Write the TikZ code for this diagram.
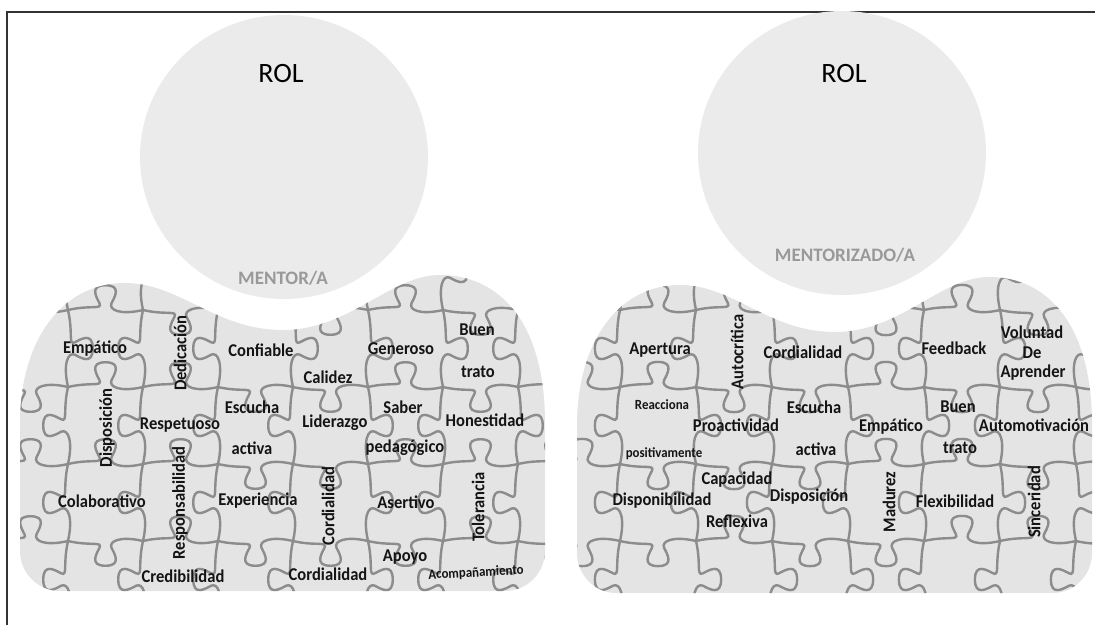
\documentclass[tikz,border=0pt]{standalone}
\usepackage{fontspec}
\setmainfont{Carlito}
\newfontfamily\wordfont{Carlito}[FakeStretch=0.92]
\usetikzlibrary{shapes.geometric}

\definecolor{headgrey}{HTML}{EBEBEB}
\definecolor{torsogrey}{HTML}{E4E4E4}
\definecolor{piecegrey}{HTML}{8C8C8C}
\definecolor{labelgrey}{HTML}{999999}
\definecolor{wordblack}{HTML}{141414}

% outline of a torso, local units, y grows downwards
\newcommand\torsopath{(0,140) .. controls (0,60) and (40,0) .. (105,0)
  .. controls (160,0) and (195,47) .. (263,47)
  .. controls (330,47) and (370,-8) .. (420,-8)
  .. controls (480,-8) and (525,40) .. (525,140)
  -- (525,268) .. controls (525,290) and (507,308) .. (485,308)
  -- (40,308) .. controls (18,308) and (0,290) .. (0,268) -- cycle}

% jigsaw grid: #1,#2 first joint, #3,#4 piece width and height
\newcommand\puzzlegrid[4]{%
  \foreach \j in {0,...,3}{
    \foreach \i in {-1,...,6}{
      \pgfmathsetmacro\s{rnd<0.5 ? 1 : -1}
      \path (#1+\i*#3, #2+\j*#4) pic[xscale=#3, yscale=\s*#3] {knob};
    }}
  \foreach \i in {0,...,6}{
    \foreach \j in {-1,...,3}{
      \pgfmathsetmacro\s{rnd<0.5 ? 1 : -1}
      \path (#1+\i*#3, #2+\j*#4) pic[rotate=-90, xscale=#4, yscale=\s*#3] {knob};
    }}}

\tikzset{
  knob/.pic={\draw[piece] (0,0) .. controls (0.3,0.07) and (0.46,0.0) .. (0.42,0.09)
    .. controls (0.38,0.17) and (0.28,0.33) .. (0.5,0.33)
    .. controls (0.72,0.33) and (0.62,0.17) .. (0.58,0.09)
    .. controls (0.54,0.0) and (0.7,-0.07) .. (1,0);}
}

\begin{document}
\begin{tikzpicture}[
    x=1pt, y=-1pt,
    head/.style={ellipse, fill=headgrey, minimum width=288pt, minimum height=284pt, inner sep=0pt},
    piece/.style={draw=piecegrey, line width=2.4pt},
    word/.style={font=\wordfont\bfseries\fontsize{18}{18}\selectfont, text=wordblack, inner sep=0pt},
    vword/.style={word, rotate=90},
    small/.style={word, font=\wordfont\bfseries\fontsize{14}{14}\selectfont},
    rol/.style={font=\fontsize{28}{28}\selectfont, text=black, inner sep=0pt},
    role/.style={font=\bfseries\fontsize{19}{19}\selectfont, text=labelgrey, inner sep=0pt}
]
\useasboundingbox (0,0) rectangle (1095,625);
\pgfmathsetseed{11}

% frame
\draw[line width=1.5pt, black!80] (1095,12) -- (7,12) -- (7,625);

% heads
\node[head] (headL) at (284,157) {};
\node[head] (headR) at (842,153) {};
\node[rol] (rolL) at (281,74) {ROL};
\node[rol] (rolR) at (844,74) {ROL};
\node[role] (mentor) at (283,278) {MENTOR/A};
\node[role] (mentee) at (845,255) {MENTORIZADO/A};

% torsos with their puzzle pieces
\fill[torsogrey, shift={(20,283)}] \torsopath;
\fill[torsogrey, shift={(577,285)}, xscale=0.981] \torsopath;
\begin{scope}
  \clip[shift={(20,283)}] \torsopath;
  \puzzlegrid{68}{310}{75}{77}
\end{scope}
\begin{scope}
  \clip[shift={(577,285)}, xscale=0.981] \torsopath;
  \puzzlegrid{620}{310}{76}{77}
\end{scope}

% mentor qualities
\node[word] (mr-empatico) at (95,349) {Empático};
\node[vword] (mr-dedicacion) at (180,353) {Dedicación};
\node[word] (mr-confiable) at (261,350) {Confiable};
\node[word] (mr-generoso) at (401,349) {Generoso};
\node[word] (mr-buen) at (477,330) {Buen};
\node[word] (mr-trato) at (478,372) {trato};
\node[word] (mr-calidez) at (328,377) {Calidez};
\node[vword] (mr-disposicion) at (107,428) {Disposición};
\node[word] (mr-respetuoso) at (180,425) {Respetuoso};
\node[word] (mr-escucha) at (252,407) {Escucha};
\node[word] (mr-activa) at (252,448) {activa};
\node[word] (mr-liderazgo) at (335,423) {Liderazgo};
\node[word] (mr-saber) at (403,407) {Saber};
\node[word] (mr-pedagogico) at (405,448) {pedagógico};
\node[word] (mr-honestidad) at (485,420) {Honestidad};
\node[word] (mr-colaborativo) at (102,501) {Colaborativo};
\node[vword] (mr-responsabilidad) at (180,503) {Responsabilidad};
\node[word] (mr-experiencia) at (258,501) {Experiencia};
\node[vword] (mr-cordialidad) at (328,506) {Cordialidad};
\node[word] (mr-asertivo) at (406,502) {Asertivo};
\node[vword] (mr-tolerancia) at (478,507) {Tolerancia};
\node[word] (mr-apoyo) at (405,557) {Apoyo};
\node[word] (mr-credibilidad) at (183,576) {Credibilidad};
\node[word] (mr-cordialidad2) at (328,574) {Cordialidad};
\node[small, rotate=3] (mr-acompanamiento) at (476,573) {Acompañamiento};

% mentee qualities
\node[word] (md-apertura) at (660,350) {Apertura};
\node[vword] (md-autocritica) at (737,352) {Autocrítica};
\node[word] (md-cordialidad) at (803,352) {Cordialidad};
\node[word] (md-feedback) at (954,348) {Feedback};
\node[word] (md-voluntad) at (1032,332) {Voluntad};
\node[word] (md-de) at (1032,353) {De};
\node[word] (md-aprender) at (1033,373) {Aprender};
\node[small] (md-reacciona) at (662,405) {Reacciona};
\node[word] (md-escucha) at (814,407) {Escucha};
\node[word] (md-proactividad) at (736,425) {Proactividad};
\node[word] (md-empatico) at (891,427) {Empático};
\node[word] (md-buen) at (958,407) {Buen};
\node[word] (md-automotivacion) at (1034,425) {Automotivación};
\node[small] (md-positivamente) at (664,454) {positivamente};
\node[word] (md-activa) at (816,449) {activa};
\node[word] (md-trato) at (960,448) {trato};
\node[word] (md-capacidad) at (737,480) {Capacidad};
\node[word] (md-disponibilidad) at (662,501) {Disponibilidad};
\node[word] (md-disposicion) at (809,497) {Disposición};
\node[word] (md-reflexiva) at (737,521) {Reflexiva};
\node[vword] (md-madurez) at (889,502) {Madurez};
\node[word] (md-flexibilidad) at (955,501) {Flexibilidad};
\node[vword] (md-sinceridad) at (1034,502) {Sinceridad};
\end{tikzpicture}
\end{document}
